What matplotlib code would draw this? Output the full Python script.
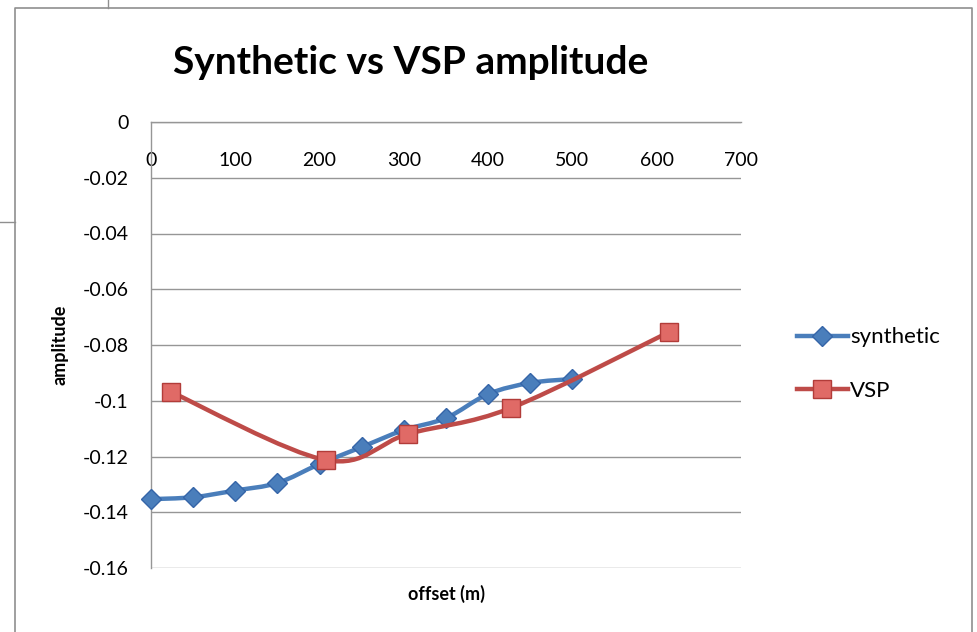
import numpy as np
import matplotlib
matplotlib.use("Agg")
import matplotlib.pyplot as plt
from matplotlib.path import Path
from matplotlib.patches import PathPatch
from matplotlib.lines import Line2D

# data
synthetic_offset = [0, 50, 100, 150, 200, 250, 300, 350, 400, 450, 500]
synthetic_amp = [-0.1353, -0.1346, -0.1322, -0.1295, -0.1227, -0.1166,
                 -0.1105, -0.1062, -0.0976, -0.0936, -0.0922]
vsp_offset = [24, 208, 305, 427, 615]
vsp_amp = [-0.0969, -0.1213, -0.1119, -0.1026, -0.0753]

x_ticks = [0, 100, 200, 300, 400, 500, 600, 700]
y_ticks = [0, -0.02, -0.04, -0.06, -0.08, -0.1, -0.12, -0.14, -0.16]

plt.rcParams['font.family'] = ['Lato', 'DejaVu Sans']

BLUE = '#4a7ebb'
BLUE_EDGE = '#3565a8'
RED = '#be4b48'
RED_FILL = '#e06a66'
RED_EDGE = '#b23c39'
GRID = '#969696'


def smooth_path(xs, ys):
    # excel-like smoothed line: cubic bezier through the points
    pts = np.column_stack([xs, ys]).astype(float)
    verts = [pts[0]]
    codes = [Path.MOVETO]
    n = len(pts)
    for i in range(n - 1):
        p0 = pts[i - 1] if i > 0 else pts[i]
        p1 = pts[i]
        p2 = pts[i + 1]
        p3 = pts[i + 2] if i + 2 < n else pts[i + 1]
        verts += [p1 + (p2 - p0) / 6.0, p2 - (p3 - p1) / 6.0, p2]
        codes += [Path.CURVE4] * 3
    return Path(verts, codes)


fig = plt.figure(figsize=(9.77, 6.32), dpi=100)
ax = fig.add_axes([151 / 977, 1 - 568 / 632, 590 / 977, 446 / 632])

ax.set_xlim(0, 700)
ax.set_ylim(-0.16, 0)
ax.set_yticks(y_ticks)
ax.set_yticklabels(['0' if v == 0 else f'{v:g}' for v in y_ticks])
ax.set_xticks(x_ticks)
ax.yaxis.grid(True, color=GRID, linewidth=1)
ax.set_axisbelow(True)

for side in ['right', 'bottom']:
    ax.spines[side].set_visible(False)
for side in ['left', 'top']:
    ax.spines[side].set_color(GRID)
    ax.spines[side].set_linewidth(1)

ax.tick_params(axis='y', length=0, pad=16, labelsize=14)
ax.tick_params(axis='x', top=True, labeltop=True, bottom=False,
               labelbottom=False, length=0, pad=-34, labelsize=14)

ax.add_patch(PathPatch(smooth_path(synthetic_offset, synthetic_amp),
                       fill=False, edgecolor=BLUE, linewidth=3.2, zorder=3,
                       capstyle='round', joinstyle='round'))
ax.plot(synthetic_offset, synthetic_amp, ls='none', marker='D', ms=10,
        mfc=BLUE, mec=BLUE_EDGE, mew=1, zorder=4, clip_on=False)
ax.add_patch(PathPatch(smooth_path(vsp_offset, vsp_amp),
                       fill=False, edgecolor=RED, linewidth=3.2, zorder=5,
                       capstyle='round', joinstyle='round'))
ax.plot(vsp_offset, vsp_amp, ls='none', marker='s', ms=13,
        mfc=RED_FILL, mec=RED_EDGE, mew=1, zorder=6, clip_on=False)

handles = [
    Line2D([], [], color=BLUE, lw=3.2, marker='D', ms=10, mfc=BLUE, mec=BLUE_EDGE),
    Line2D([], [], color=RED, lw=3.2, marker='s', ms=13, mfc=RED_FILL, mec=RED_EDGE),
]
fig.legend(handles, ['synthetic', 'VSP'], loc='center left',
           bbox_to_anchor=(788 / 977, 1 - 364 / 632), frameon=False,
           fontsize=16, handlelength=2.3, handletextpad=0.1, labelspacing=1.5,
           borderaxespad=0)

fig.text(411 / 977, 1 - 62 / 632, 'Synthetic vs VSP amplitude', ha='center',
         va='center', fontsize=28, fontweight='bold')
ax.set_xlabel('offset (m)', fontsize=13, fontweight='bold', labelpad=12)
ax.set_ylabel('amplitude', fontsize=13, fontweight='bold', labelpad=10)

# chart frame and screenshot edges
fig.add_artist(Line2D([15 / 977, 15 / 977, 972 / 977, 972 / 977],
                      [0, 1 - 8 / 632, 1 - 8 / 632, 0],
                      transform=fig.transFigure, color='#8f8f8f', lw=1.2))
fig.add_artist(Line2D([108 / 977, 108 / 977], [1, 1 - 8 / 632],
                      transform=fig.transFigure, color='#8f8f8f', lw=1))
fig.add_artist(Line2D([0, 15 / 977], [1 - 222 / 632, 1 - 222 / 632],
                      transform=fig.transFigure, color='#8f8f8f', lw=1))

fig.savefig('out.png', dpi=100)
